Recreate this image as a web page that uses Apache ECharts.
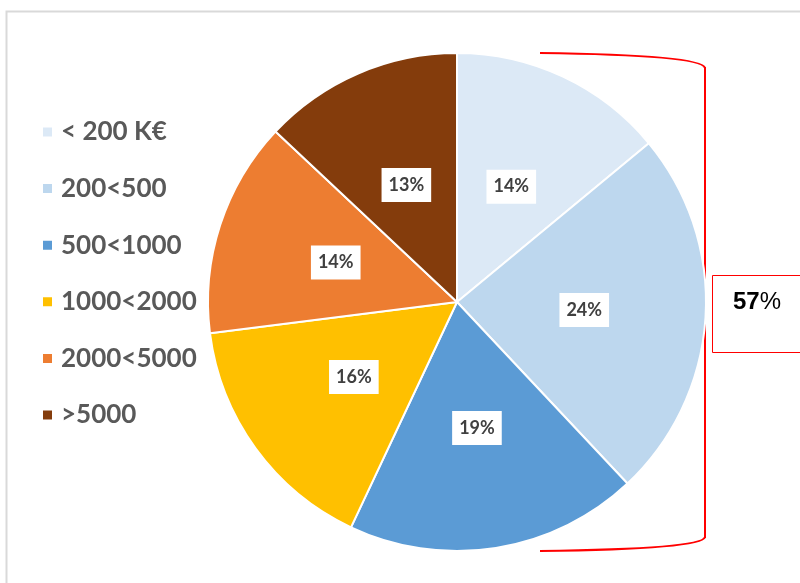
<!DOCTYPE html>
<html>
<head>
<meta charset="utf-8">
<script src="https://cdn.jsdelivr.net/npm/echarts@6/dist/echarts.min.js"></script>
<style>
  html, body { margin: 0; padding: 0; background: #fff; }
  #chart { width: 800px; height: 583px; }
</style>
</head>
<body>
<div id="chart"></div>
<script>
// tranches de CA
var categories = ['< 200 K€', '200<500', '500<1000', '1000<2000', '2000<5000', '>5000'];
var shares = [14, 24, 19, 16, 14, 13];
var colors = ['#dce9f6', '#bdd7ee', '#5b9bd5', '#ffc000', '#ed7d31', '#843c0c'];
var bracketTotal = '57';

var chart = echarts.init(document.getElementById('chart'));

var pieData = categories.map(function (name, i) {
    return { name: name, value: shares[i], itemStyle: { color: colors[i] } };
});

var red = { fill: 'none', stroke: '#ff0000', lineWidth: 2 };

var option = {
    backgroundColor: '#fff',
    animation: false,
    legend: {
        orient: 'vertical',
        left: 36,
        top: 114,
        itemWidth: 11,
        itemHeight: 11,
        itemGap: 30.6,
        icon: 'rect',
        data: categories,
        textStyle: {
            fontFamily: 'Lato',
            fontWeight: 'bold',
            fontSize: 26,
            lineHeight: 26,
            color: '#595959',
            padding: [0, 0, 0, 3]
        }
    },
    graphic: [
        {
            type: 'rect',
            shape: { x: 6.5, y: 11.5, width: 820, height: 600 },
            style: { fill: 'none', stroke: '#d9d9d9', lineWidth: 2 },
            silent: true
        },
        // accolade rouge
        {
            type: 'bezierCurve',
            shape: { x1: 540, y1: 53, x2: 705, y2: 68, cpx1: 702, cpy1: 55 },
            style: red,
            silent: true
        },
        {
            type: 'line',
            shape: { x1: 705, y1: 67, x2: 705, y2: 538 },
            style: red,
            silent: true
        },
        {
            type: 'bezierCurve',
            shape: { x1: 705, y1: 537, x2: 540, y2: 551, cpx1: 703, cpy1: 549 },
            style: red,
            silent: true
        },
        {
            type: 'rect',
            shape: { x: 712.5, y: 275.5, width: 100, height: 77 },
            style: { fill: '#fff', stroke: '#ff0000', lineWidth: 1 },
            silent: true
        },
        {
            type: 'text',
            x: 733,
            y: 302,
            style: {
                text: '{b|' + bracketTotal + '}%',
                fontFamily: 'Liberation Sans',
                fontSize: 24,
                fill: '#000',
                verticalAlign: 'middle',
                rich: {
                    b: { fontFamily: 'Liberation Sans', fontSize: 24, fontWeight: 'bold', fill: '#000' }
                }
            },
            silent: true
        }
    ],
    series: [
        {
            type: 'pie',
            center: [457, 302],
            radius: 249,
            startAngle: 90,
            clockwise: true,
            data: pieData,
            itemStyle: { borderColor: '#fff', borderWidth: 2 },
            label: {
                position: 'inside',
                formatter: '{c}%',
                fontFamily: 'Lato',
                fontWeight: 'bold',
                fontSize: 18,
                color: '#404040',
                backgroundColor: '#fff',
                padding: [8, 7]
            },
            labelLine: { show: false },
            emphasis: { disabled: true }
        }
    ]
};

chart.setOption(option);
</script>
</body>
</html>
